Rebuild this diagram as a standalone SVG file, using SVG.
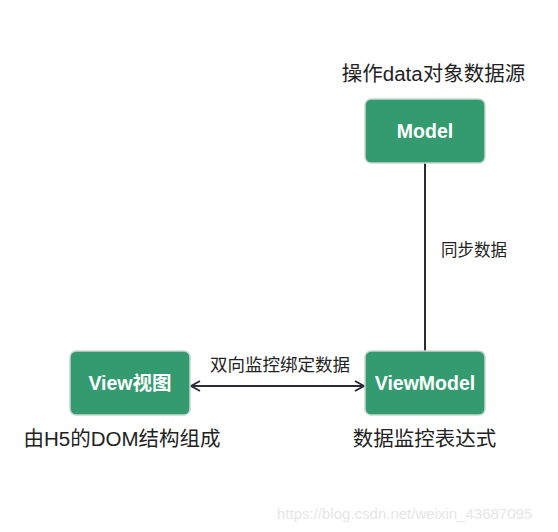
<svg xmlns="http://www.w3.org/2000/svg" width="558" height="532" viewBox="0 0 558 532">
<style>
.box{fill:#349b71;stroke:#c8d8d0;stroke-width:1.5}
.nt{font-family:"Liberation Sans","Noto Sans CJK SC",sans-serif;font-size:19.5px;font-weight:bold;fill:#fff;text-anchor:middle}
.cap{font-family:"Liberation Sans","Noto Sans CJK SC",sans-serif;font-size:20.5px;fill:#222;text-anchor:middle}
.lbl{font-family:"Liberation Sans","Noto Sans CJK SC",sans-serif;font-size:16.5px;fill:#222;text-anchor:middle}
.wm{font-family:"Liberation Sans","Noto Sans CJK SC",sans-serif;font-size:15px;fill:#e6e6e6}
.edge{stroke:#2b2b3b;stroke-width:2;fill:none}
</style>
<defs>
<marker id="ah" viewBox="0 0 12 12" refX="11" refY="6" markerWidth="12" markerHeight="12" markerUnits="userSpaceOnUse" orient="auto-start-reverse">
<path d="M2,1 L11,6 L2,11" fill="none" stroke="#2b2b3b" stroke-width="2"/>
</marker>
</defs>
<rect width="558" height="532" fill="#fff"/>
<g id="connectors">
<line class="edge" x1="425" y1="163" x2="425" y2="351"/>
<line class="edge" x1="191" y1="386" x2="364" y2="386" marker-start="url(#ah)" marker-end="url(#ah)"/>
<text class="lbl" x="474" y="256">同步数据</text>
<text class="lbl" x="280" y="371" style="font-size:17.5px">双向监控绑定数据</text>
</g>
<g id="model">
<rect class="box" x="365" y="99" width="120" height="64" rx="6"/>
<text class="nt" x="425" y="138">Model</text>
<text class="cap" x="433.5" y="81">操作data对象数据源</text>
</g>
<g id="viewmodel">
<rect class="box" x="365" y="351" width="120" height="64" rx="6"/>
<text class="nt" x="425" y="390">ViewModel</text>
<text class="cap" x="424.5" y="446">数据监控表达式</text>
</g>
<g id="view">
<rect class="box" x="70" y="351" width="120" height="64" rx="6"/>
<text class="nt" x="130" y="390">View视图</text>
<text class="cap" x="122" y="446">由H5的DOM结构组成</text>
</g>
<text class="wm" x="277" y="519">https://blog.csdn.net/weixin_43687095</text>
</svg>
